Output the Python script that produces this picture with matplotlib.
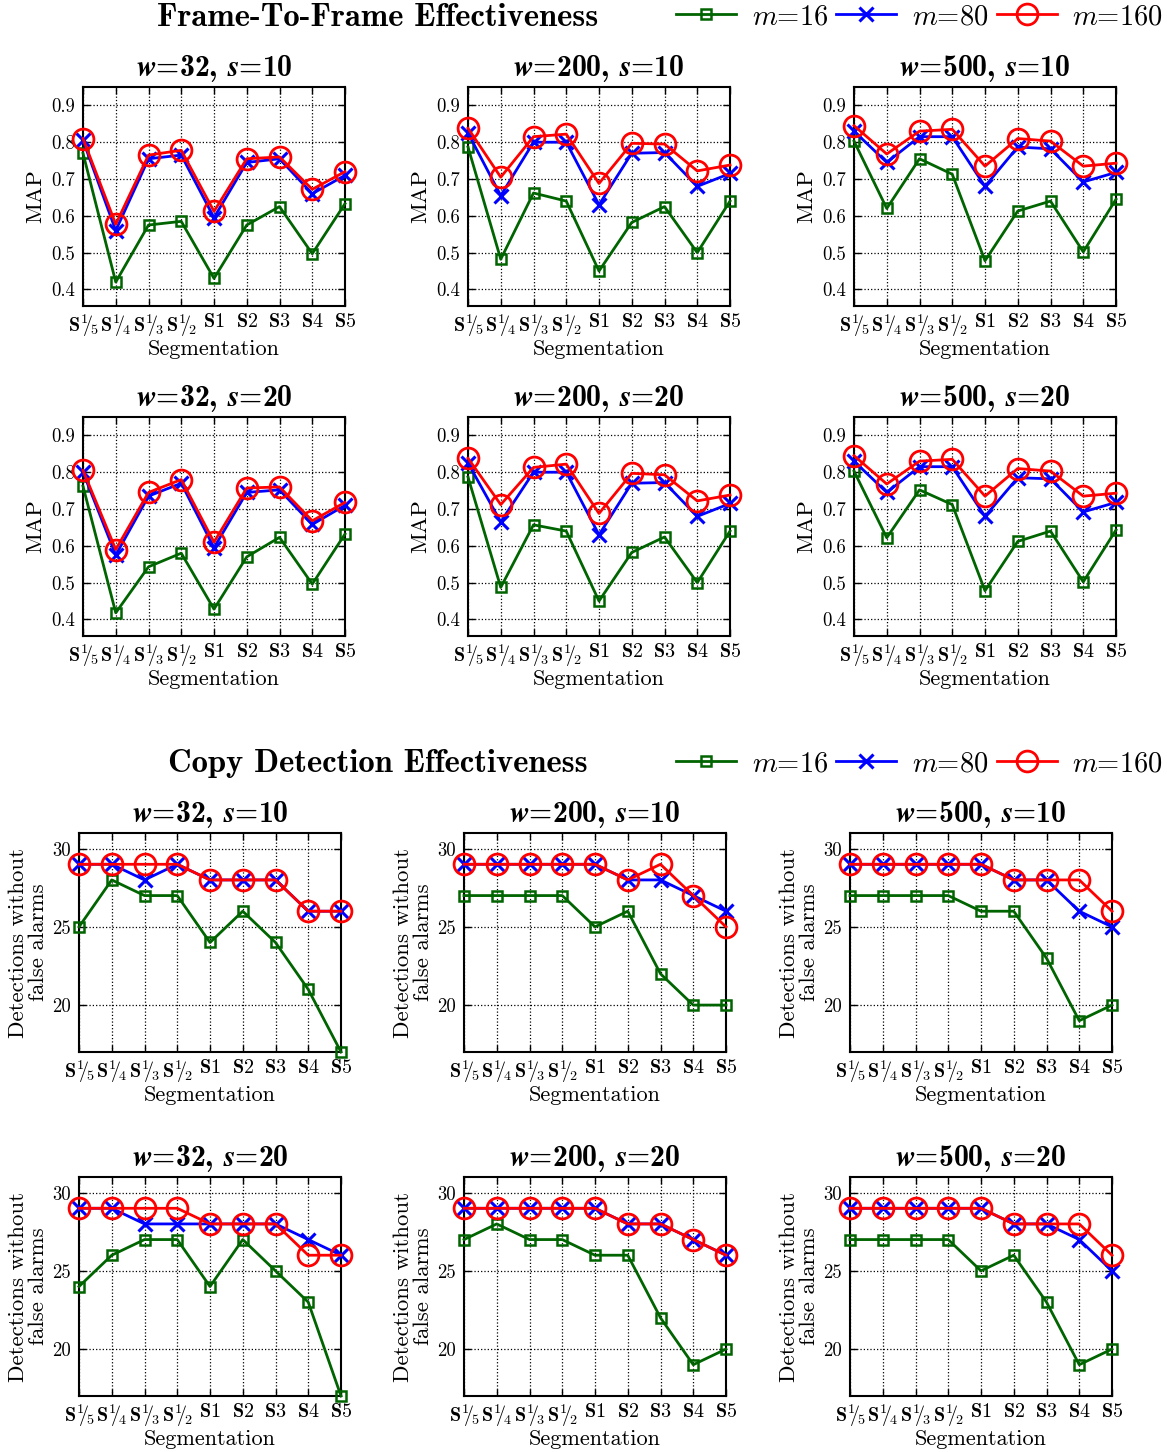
import matplotlib
matplotlib.use("Agg")
from matplotlib import pyplot as plt
from matplotlib.lines import Line2D

plt.rcParams['mathtext.fontset'] = 'cm'
plt.rcParams['font.family'] = 'serif'
plt.rcParams['font.serif'] = ['cmr10', 'DejaVu Serif']
plt.rcParams['axes.formatter.use_mathtext'] = True

# x categories (segmentation)
seg_labels = [r'$\mathbf{S}^{\mathbf{1}}\!\!/\!_{\mathbf{5}}$', r'$\mathbf{S}^{\mathbf{1}}\!\!/\!_{\mathbf{4}}$',
              r'$\mathbf{S}^{\mathbf{1}}\!\!/\!_{\mathbf{3}}$', r'$\mathbf{S}^{\mathbf{1}}\!\!/\!_{\mathbf{2}}$',
              r'$\mathbf{S1}$', r'$\mathbf{S2}$', r'$\mathbf{S3}$', r'$\mathbf{S4}$', r'$\mathbf{S5}$']
panel_w = [32, 200, 500]
panel_s = [10, 20]
m_values = [16, 80, 160]

# frame-to-frame MAP, [s][w] -> (m16, m80, m160)
map_s10_w32 = ([0.77, 0.42, 0.575, 0.585, 0.43, 0.575, 0.625, 0.497, 0.633],
               [0.805, 0.56, 0.755, 0.765, 0.595, 0.745, 0.755, 0.66, 0.71],
               [0.81, 0.577, 0.765, 0.778, 0.612, 0.755, 0.76, 0.672, 0.72])
map_s10_w200 = ([0.787, 0.482, 0.662, 0.64, 0.45, 0.582, 0.625, 0.5, 0.64],
                [0.825, 0.655, 0.8, 0.8, 0.63, 0.77, 0.772, 0.68, 0.715],
                [0.838, 0.705, 0.815, 0.822, 0.688, 0.797, 0.795, 0.722, 0.738])
map_s10_w500 = ([0.803, 0.62, 0.755, 0.713, 0.478, 0.613, 0.64, 0.502, 0.645],
                [0.83, 0.745, 0.815, 0.815, 0.68, 0.787, 0.782, 0.692, 0.718],
                [0.845, 0.768, 0.83, 0.835, 0.735, 0.81, 0.803, 0.735, 0.743])
map_s20_w32 = ([0.762, 0.418, 0.543, 0.58, 0.428, 0.57, 0.623, 0.496, 0.632],
               [0.8, 0.575, 0.735, 0.77, 0.595, 0.745, 0.752, 0.658, 0.71],
               [0.805, 0.59, 0.745, 0.78, 0.61, 0.757, 0.76, 0.668, 0.718])
map_s20_w200 = ([0.787, 0.487, 0.657, 0.64, 0.45, 0.582, 0.624, 0.5, 0.64],
                [0.825, 0.665, 0.8, 0.8, 0.63, 0.77, 0.772, 0.68, 0.715],
                [0.838, 0.712, 0.813, 0.822, 0.688, 0.797, 0.793, 0.722, 0.738])
map_s20_w500 = ([0.803, 0.622, 0.752, 0.712, 0.478, 0.612, 0.64, 0.502, 0.643],
                [0.83, 0.745, 0.815, 0.815, 0.68, 0.785, 0.782, 0.692, 0.718],
                [0.845, 0.768, 0.83, 0.835, 0.735, 0.81, 0.803, 0.735, 0.743])

# copy detections without false alarms
det_s10_w32 = ([25, 28, 27, 27, 24, 26, 24, 21, 17],
               [29, 29, 28, 29, 28, 28, 28, 26, 26],
               [29, 29, 29, 29, 28, 28, 28, 26, 26])
det_s10_w200 = ([27, 27, 27, 27, 25, 26, 22, 20, 20],
                [29, 29, 29, 29, 29, 28, 28, 27, 26],
                [29, 29, 29, 29, 29, 28, 29, 27, 25])
det_s10_w500 = ([27, 27, 27, 27, 26, 26, 23, 19, 20],
                [29, 29, 29, 29, 29, 28, 28, 26, 25],
                [29, 29, 29, 29, 29, 28, 28, 28, 26])
det_s20_w32 = ([24, 26, 27, 27, 24, 27, 25, 23, 17],
               [29, 29, 28, 28, 28, 28, 28, 27, 26],
               [29, 29, 29, 29, 28, 28, 28, 26, 26])
det_s20_w200 = ([27, 28, 27, 27, 26, 26, 22, 19, 20],
                [29, 29, 29, 29, 29, 28, 28, 27, 26],
                [29, 29, 29, 29, 29, 28, 28, 27, 26])
det_s20_w500 = ([27, 27, 27, 27, 25, 26, 23, 19, 20],
                [29, 29, 29, 29, 29, 28, 28, 27, 25],
                [29, 29, 29, 29, 29, 28, 28, 28, 26])

map_data = [[map_s10_w32, map_s10_w200, map_s10_w500],
            [map_s20_w32, map_s20_w200, map_s20_w500]]
det_data = [[det_s10_w32, det_s10_w200, det_s10_w500],
            [det_s20_w32, det_s20_w200, det_s20_w500]]

styles = [dict(color='#006400', marker='s', markersize=7.5, markeredgewidth=1.8),
          dict(color='#0000ff', marker='x', markersize=10, markeredgewidth=2.2),
          dict(color='#ff0000', marker='o', markersize=15, markeredgewidth=2.0)]

W, H = 1167, 1452
fig = plt.figure(figsize=[W / 100, H / 100], dpi=100)
fig.patch.set_facecolor('white')

col_left_top = [83, 468, 854]
col_left_bot = [79, 464, 850]
ax_w = 262
ax_h = 219
row_top = [87, 417, 833, 1177]


def make_axes(px_left, px_top):
    return fig.add_axes([px_left / W, 1 - (px_top + ax_h) / H, ax_w / W, ax_h / H])


def draw_panel(ax, series, ylim, yticks, yticklabels, ylabel, title, ypad):
    x = list(range(len(seg_labels)))
    for vals, st in zip(series, styles):
        ax.plot(x, vals, '-', linewidth=2.0, markerfacecolor='none', clip_on=False, zorder=3, **st)
    ax.set_xlim(0, len(seg_labels) - 1)
    ax.set_ylim(*ylim)
    ax.set_xticks(x)
    ax.set_xticklabels(seg_labels, fontsize=14.5)
    ax.set_yticks(yticks)
    ax.set_yticklabels(yticklabels, fontsize=13.5)
    ax.grid(True, color='k', linestyle=':', linewidth=0.9)
    ax.tick_params(direction='in', top=True, right=True, length=5, width=1.0, pad=6)
    ax.tick_params(axis='x', pad=5)
    for sp in ax.spines.values():
        sp.set_linewidth(1.5)
    ax.set_xlabel('Segmentation', fontsize=16, labelpad=0)
    ax.set_ylabel(ylabel, fontsize=16.5, labelpad=ypad, linespacing=1.0)
    ax.set_title(title, fontsize=21.5, pad=8, fontfamily='cmb10')


def panel_title(w, s):
    return r'$\mathbfit{w}$=%d, $\mathbfit{s}$=%d' % (w, s)


# frame-to-frame section
for r, s in enumerate(panel_s):
    for c, w in enumerate(panel_w):
        ax = make_axes(col_left_top[c], row_top[r])
        draw_panel(ax, map_data[r][c], (0.355, 0.95), [0.4, 0.5, 0.6, 0.7, 0.8, 0.9],
                   ['0.4', '0.5', '0.6', '0.7', '0.8', '0.9'], 'MAP', panel_title(w, s), 4)

# copy detection section
for r, s in enumerate(panel_s):
    for c, w in enumerate(panel_w):
        ax = make_axes(col_left_bot[c], row_top[r + 2])
        draw_panel(ax, det_data[r][c], (17, 31), [20, 25, 30], ['20', '25', '30'],
                   'Detections without\nfalse alarms', panel_title(w, s), 3)

handles = [Line2D([], [], linewidth=2.0, markerfacecolor='none', **st) for st in styles]
labels = [r'$m$=%d' % m for m in m_values]

fig.text(378 / W, 1 - 17 / H, 'Frame-To-Frame Effectiveness', fontfamily='cmb10',
         fontsize=23.5, ha='center', va='center')
fig.text(378 / W, 1 - 764 / H, 'Copy Detection Effectiveness', fontfamily='cmb10',
         fontsize=23.5, ha='center', va='center')

for yy in [17, 764]:
    fig.legend(handles, labels, loc='center right', bbox_to_anchor=(1163 / W, 1 - yy / H),
               ncol=3, frameon=False, fontsize=20.5, handlelength=2.1, handletextpad=0.55,
               columnspacing=0.3, borderaxespad=0, borderpad=0)

fig.savefig('out.png', dpi=100)
